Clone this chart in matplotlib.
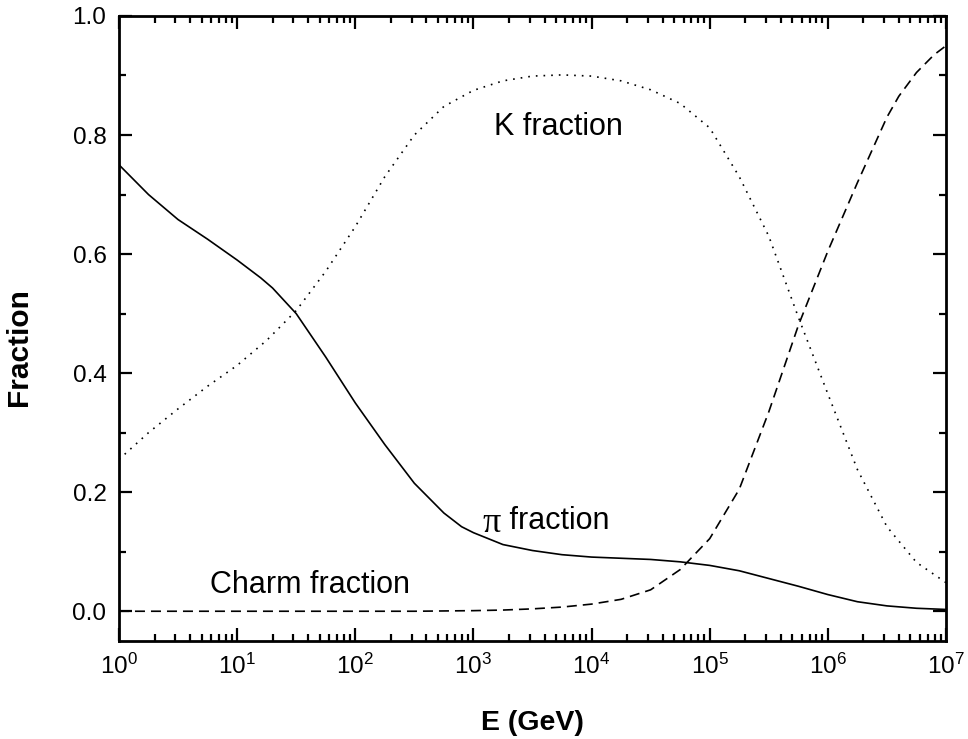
import matplotlib
matplotlib.use("Agg")
import matplotlib.pyplot as plt
import numpy as np

plt.rcParams["font.family"] = ["Liberation Sans", "DejaVu Sans"]
plt.rcParams["mathtext.fontset"] = "custom"
plt.rcParams["mathtext.rm"] = "Liberation Sans"
plt.rcParams["mathtext.default"] = "regular"

# --- fractions vs log10(E / GeV) ---
pi_logE = [0.0, 0.25, 0.5, 0.75, 1.0, 1.2, 1.3, 1.5, 1.75, 2.0, 2.25, 2.5,
           2.75, 2.9, 3.0, 3.25, 3.5, 3.75, 4.0, 4.5, 4.75, 5.0, 5.25, 5.5,
           5.75, 6.0, 6.25, 6.5, 6.75, 7.0]
pi_frac = [0.750, 0.700, 0.658, 0.625, 0.590, 0.560, 0.543, 0.500, 0.427,
           0.350, 0.280, 0.215, 0.165, 0.142, 0.132, 0.112, 0.102, 0.095,
           0.091, 0.087, 0.083, 0.077, 0.068, 0.055, 0.042, 0.028, 0.016,
           0.009, 0.005, 0.003]

k_logE = [0.0, 0.25, 0.5, 0.75, 1.0, 1.25, 1.5, 1.75, 2.0, 2.25, 2.5, 2.75,
          3.0, 3.25, 3.5, 3.75, 4.0, 4.25, 4.5, 4.75, 5.0, 5.25, 5.5, 5.75,
          6.0, 6.25, 6.5, 6.75, 7.0]
k_frac = [0.255, 0.300, 0.340, 0.378, 0.413, 0.455, 0.505, 0.571, 0.646,
          0.730, 0.800, 0.848, 0.875, 0.891, 0.899, 0.901, 0.899, 0.891,
          0.876, 0.853, 0.812, 0.730, 0.630, 0.494, 0.365, 0.238, 0.142,
          0.082, 0.048]

charm_logE = [0.0, 1.0, 2.0, 2.5, 3.0, 3.25, 3.5, 3.75, 4.0, 4.25, 4.5,
              4.75, 5.0, 5.25, 5.5, 5.75, 6.0, 6.25, 6.5, 6.6, 6.75, 6.9,
              7.0]
charm_frac = [0.0, 0.0, 0.0, 0.0, 0.001, 0.002, 0.004, 0.007, 0.012, 0.020,
              0.036, 0.070, 0.122, 0.205, 0.335, 0.480, 0.605, 0.720, 0.830,
              0.865, 0.905, 0.935, 0.950]

fig = plt.figure(figsize=(9.68, 7.39), dpi=100)
ax = fig.add_axes([0.1229, 0.1326, 0.8544, 0.8458])

lw = 1.2
ax.plot(10 ** np.array(pi_logE), pi_frac, color="black", lw=lw, ls="-")
ax.plot(10 ** np.array(k_logE), k_frac, color="black", lw=lw,
        ls=(0, (1.0, 3.6)))
ax.plot(10 ** np.array(charm_logE), charm_frac, color="black", lw=lw,
        ls=(0, (6.0, 3.6)))

ax.set_xscale("log")
ax.set_xlim(1, 1e7)
ax.set_ylim(-0.05, 1.0)
ax.set_xticks([10 ** i for i in range(8)])
ax.set_yticks([0.0, 0.2, 0.4, 0.6, 0.8, 1.0])
ax.set_yticks(np.arange(0.1, 1.0, 0.2), minor=True)
ax.yaxis.set_major_formatter(matplotlib.ticker.FormatStrFormatter("%.1f"))

for s in ax.spines.values():
    s.set_linewidth(2.0)
ax.tick_params(which="both", direction="in", top=True, right=True,
               width=1.6, labelsize=17.5, pad=9)
ax.tick_params(which="major", length=9.5)
ax.tick_params(which="minor", length=5)

ax.set_xlabel("E (GeV)", fontsize=20.5, fontweight="bold")
ax.xaxis.set_label_coords(0.4994, -0.11)
ax.set_ylabel("Fraction", fontsize=21.5, fontweight="bold")
ax.yaxis.set_label_coords(-0.104, 0.47)

# curve labels
ax.text(10 ** 3.17, 0.813, "K fraction", fontsize=22, va="center",
        ha="left")
ax.text(10 ** 0.77, 0.044, "Charm fraction", fontsize=22, va="center",
        ha="left")
pi_txt = ax.text(10 ** 3.08, 0.148, "\u03c0", fontsize=26, va="center",
                 ha="left", family=["Liberation Serif", "DejaVu Serif"])
ax.annotate(" fraction", xy=(1.0, 0.12), xycoords=pi_txt, fontsize=22,
            va="bottom", ha="left")

fig.savefig("out.png", dpi=100)
